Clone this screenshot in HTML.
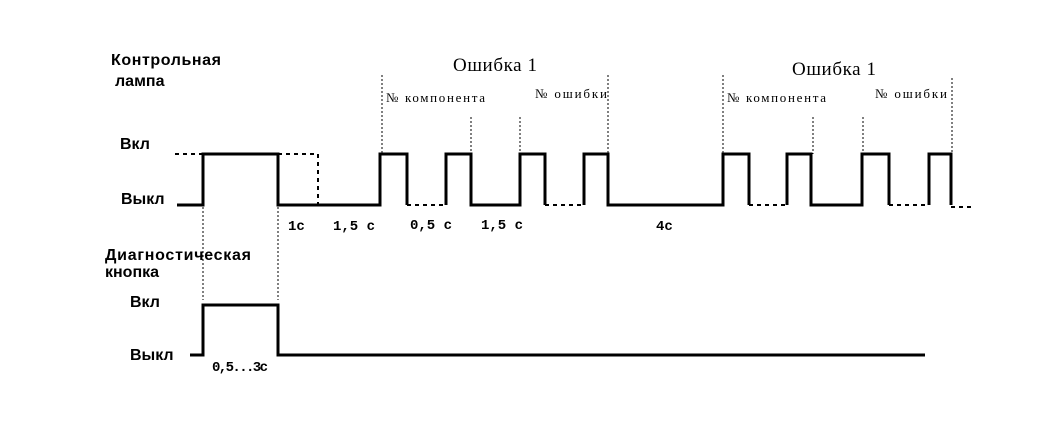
<!DOCTYPE html>
<html><head><meta charset="utf-8"><style>body{margin:0;background:#fff}svg{display:block}</style></head><body>
<svg width="1049" height="425" viewBox="0 0 1049 425" xmlns="http://www.w3.org/2000/svg" font-family="Liberation Sans, sans-serif" fill="#000">
<g font-size="16" font-weight="bold">
<text x="111" y="65" textLength="110">Контрольная</text>
<text x="115" y="86">лампа</text>
<text x="120" y="149">Вкл</text>
<text x="121" y="204">Выкл</text>
<text x="105" y="260" textLength="146">Диагностическая</text>
<text x="105" y="277">кнопка</text>
<text x="130" y="307">Вкл</text>
<text x="130" y="360">Выкл</text>
</g>
<g font-size="19" font-family="Liberation Serif, serif">
<text x="453" y="71" textLength="84">Ошибка 1</text>
<text x="792" y="75" textLength="84">Ошибка 1</text>
</g>
<g font-size="13" font-family="Liberation Serif, serif">
<text x="386" y="102" textLength="99">№ компонента</text>
<text x="535" y="98" textLength="72">№ ошибки</text>
<text x="727" y="102" textLength="99">№ компонента</text>
<text x="875" y="98" textLength="72">№ ошибки</text>
</g>
<g font-size="14" font-family="Liberation Mono, monospace" font-weight="bold">
<text x="288" y="230">1с</text>
<text x="333" y="230">1,5 с</text>
<text x="410" y="229">0,5 с</text>
<text x="481" y="229">1,5 с</text>
<text x="656" y="230">4с</text>
<text x="212" y="371" textLength="56">0,5...3с</text>
</g>
<g stroke="#000" stroke-width="3" fill="none">
<polyline points="177,205 203,205 203,154 278,154 278,205 380,205 380,154 407,154 407,205"/>
<polyline points="446,205 446,154 471,154 471,205 520,205 520,154 545,154 545,205"/>
<polyline points="584,205 584,154 608,154 608,205 723,205 723,154 749,154 749,205"/>
<polyline points="787,205 787,154 811,154 811,205 862,205 862,154 889,154 889,205"/>
<polyline points="929,205 929,154 951,154 951,205"/>
<polyline points="190,355 203,355 203,305 278,305 278,355 925,355"/>
</g>
<g stroke="#000" stroke-width="2" fill="none" stroke-dasharray="4,4">
<line x1="175" y1="154" x2="203" y2="154"/>
<polyline points="278,154 318,154 318,205"/>
<line x1="407" y1="205" x2="446" y2="205"/>
<line x1="545" y1="205" x2="584" y2="205"/>
<line x1="749" y1="205" x2="787" y2="205"/>
<line x1="889" y1="205" x2="929" y2="205"/>
<line x1="951" y1="207" x2="972" y2="207"/>
</g>
<g stroke="#000" stroke-width="1" fill="none" stroke-dasharray="2,2">
<line x1="382" y1="75" x2="382" y2="154"/>
<line x1="471" y1="117" x2="471" y2="154"/>
<line x1="520" y1="117" x2="520" y2="154"/>
<line x1="608" y1="75" x2="608" y2="154"/>
<line x1="723" y1="75" x2="723" y2="154"/>
<line x1="813" y1="117" x2="813" y2="154"/>
<line x1="863" y1="117" x2="863" y2="154"/>
<line x1="952" y1="78" x2="952" y2="154"/>
<line x1="203" y1="207" x2="203" y2="300"/>
<line x1="278" y1="207" x2="278" y2="300"/>
</g>
</svg>
</body></html>
